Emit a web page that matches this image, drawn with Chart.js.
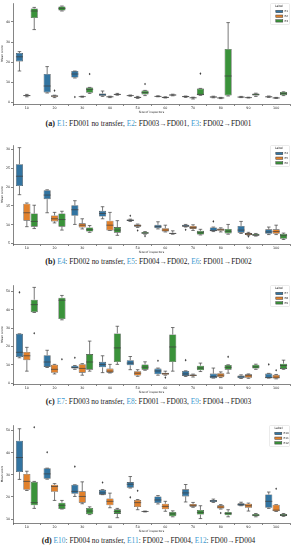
<!DOCTYPE html>
<html>
<head>
<meta charset="utf-8">
<script src="https://cdn.jsdelivr.net/npm/chart.js@4.4.0/dist/chart.umd.min.js"></script>
<style>
body { margin: 0; background: #fff; width: 297px; height: 550px; position: relative; overflow: hidden; }
.panel { position: absolute; left: 0; width: 297px; }
.cap { position: absolute; left: 0; width: 297px; text-align: center; font: 7.4px "Liberation Serif", serif; color: #1a1a1a; white-space: nowrap; line-height: 1; }
.cap b { font-size: 8.2px; }
.cap span { color: #3d9ad1; }
</style>
</head>
<body>
<div class="panel" style="top:0;height:114px"><canvas id="ca"></canvas></div>
<div class="cap" style="top:119.5px"><b>(a)</b> <span>E1</span>: FD001 no transfer, <span>E2</span>: FD003→FD001, <span>E3</span>: FD002→FD001</div>
<div class="panel" style="top:142px;height:112px"><canvas id="cb"></canvas></div>
<div class="cap" style="top:258px"><b>(b)</b> <span>E4</span>: FD002 no transfer, <span>E5</span>: FD004→FD002, <span>E6</span>: FD001→FD002</div>
<div class="panel" style="top:282px;height:112px"><canvas id="cc"></canvas></div>
<div class="cap" style="top:397.5px"><b>(c)</b> <span>E7</span>: FD003 no transfer, <span>E8</span>: FD001→FD003, <span>E9</span>: FD004→FD003</div>
<div class="panel" style="top:422px;height:111px"><canvas id="cd"></canvas></div>
<div class="cap" style="top:537px"><b>(d)</b> <span>E10</span>: FD004 no transfer, <span>E11</span>: FD002→FD004, <span>E12</span>: FD00→FD004</div>
<script>
// x categories
var sizes = ['10', '20', '30', '40', '50', '60', '70', '80', '90', '100'];

// each row: [min, q1, median, q3, max] per size; outliers as [size index, value]
var e1 = [[15.5, 20.3, 22.6, 24.5, 25.2], [4.5, 4.8, 8, 14, 17.7], [12, 12.2, 14, 15.5, 15.5], [2.8, 3.1, 3.6, 4.3, 5.5], [2.9, 3.0, 3.2, 3.3, 3.5],
    [2.6, 2.7, 2.8, 3.0, 3.1], [2.3, 2.5, 2.7, 2.9, 3.0], [2.1, 2.3, 2.5, 2.7, 2.9], [2.2, 2.3, 2.5, 2.6, 2.8], [2.3, 2.4, 2.6, 2.8, 3.0]];
var e1Out = [[2, 2.5]];
var e2 = [[2.6, 3.0, 3.2, 3.4, 3.8], [2.2, 2.6, 3.0, 3.3, 3.4], [2.4, 2.6, 2.7, 2.8, 2.9], [2.2, 2.4, 2.6, 2.8, 2.9], [1.8, 2.1, 2.3, 2.5, 2.8],
    [2.0, 2.1, 2.3, 2.5, 2.6], [1.5, 2.0, 2.1, 2.2, 2.4], [1.7, 1.9, 2.0, 2.2, 2.3], [2.0, 2.1, 2.2, 2.3, 2.4], [1.8, 1.9, 2.0, 2.2, 2.3]];
var e2Out = [[1, 5.7]];
var e3 = [[36.2, 42, 45.5, 46.8, 47.3], [45.5, 45.7, 46.8, 47.8, 48], [4.3, 4.6, 6.3, 7.2, 7.3], [3.4, 3.6, 3.8, 4.0, 4.3], [3.2, 3.8, 4.7, 5.7, 5.8],
    [3.1, 3.3, 3.5, 3.7, 3.9], [3.3, 3.4, 3.8, 6.7, 6.8], [3.0, 3.3, 13, 26.5, 39.7], [2.8, 3.2, 3.7, 4.2, 4.4], [3.2, 3.4, 4.2, 5.0, 5.1]];
var e3Out = [[2, 14], [4, 9], [6, 14.2]];

var e4 = [[18, 20.3, 22.9, 26.1, 30.5], [13.2, 16.8, 17.9, 19.2, 19.3], [10.1, 12.4, 14, 15.2, 16.4], [11.6, 12.2, 13, 13.7, 14.8], [10.9, 11.0, 11.2, 11.4, 11.5],
    [8.9, 9.1, 9.5, 10, 10.8], [9.4, 9.5, 9.7, 10, 10.1], [8.2, 8.3, 8.5, 9.3, 9.4], [7.7, 7.9, 8.6, 9.7, 10.9], [7.4, 7.6, 8.1, 8.8, 9.4]];
var e4Out = [[4, 12.4], [6, 8.7], [7, 10.9]];
var e5 = [[9.5, 11.1, 13.2, 15.6, 15.8], [10.5, 10.9, 11.6, 12.5, 13.3], [8.9, 9.3, 9.9, 10.4, 11.6], [8.5, 8.5, 9.9, 11.1, 13.3], [9.3, 9.5, 9.8, 10.1, 10.2],
    [8.1, 8.2, 8.6, 9.1, 9.9], [8.5, 8.9, 9.3, 9.7, 10], [8.1, 8.4, 8.7, 9.0, 9.2], [7.2, 7.3, 7.6, 7.8, 8.0], [7.4, 7.6, 8.2, 8.8, 9.9]];
var e5Out = [[4, 8.5], [8, 6.9]];
var e6 = [[9.0, 9.5, 10.9, 13, 15.2], [8.6, 9.5, 11.4, 13, 13.6], [8.0, 8.2, 8.7, 9.3, 9.8], [7.2, 7.9, 8.6, 9.4, 11.1], [7.5, 7.6, 7.8, 8.1, 8.2],
    [7.5, 7.6, 7.7, 7.9, 8.4], [7.3, 7.4, 7.9, 8.4, 8.8], [7.5, 7.7, 8.3, 8.9, 10.1], [7.0, 7.1, 7.3, 7.6, 7.7], [6.1, 6.3, 7.1, 7.6, 7.8]];
var e6Out = [[4, 7.0]];

var e7 = [[13.8, 14.2, 16.8, 26.9, 26.9], [8.5, 8.8, 11.5, 15.2, 17.9], [7.5, 7.9, 8.5, 9.5, 9.6], [5.7, 8.6, 10.1, 11.6, 14.9], [7.3, 9.7, 10.9, 12.5, 14.5],
    [4.3, 4.8, 6.6, 7.9, 8.2], [3.6, 3.9, 5, 6.6, 6.7], [2.7, 2.7, 3.5, 5.2, 8.2], [2.5, 2.7, 3.4, 4.1, 4.5], [2.7, 2.7, 3, 5.2, 5.3]];
var e7Out = [[0, 49.5], [2, 13.8], [5, 12.2], [6, 12.5], [9, 10.2]];
var e8 = [[6.5, 12.5, 14.9, 17, 19.5], [5, 5.6, 7.5, 10, 10.2], [4.3, 5.7, 8, 10.3, 10.6], [5.5, 5.7, 6.5, 7.9, 10.2], [3.7, 4.1, 5.4, 6.5, 7.3],
    [4.3, 4.5, 5.2, 5.7, 6.5], [3.3, 3.8, 4.2, 4.7, 4.9], [3.0, 3.2, 4.3, 5.4, 6.1], [2.6, 2.9, 4.0, 4.8, 5.0], [2.3, 2.5, 3.2, 4.5, 4.7]];
var e8Out = [[5, 3.0], [9, 7.0]];
var e9 = [[38.5, 38.7, 42.8, 45.5, 52.2], [34.5, 34.9, 45.2, 46.6, 47.8], [6.5, 7.3, 11.5, 15.8, 22.9], [10.2, 11.5, 19.2, 27.1, 31], [7, 7.3, 8.7, 10.2, 11.6],
    [6.5, 11.5, 19.7, 26.5, 30.3], [6.3, 7, 8.2, 9.5, 10.9], [5.4, 7.3, 8.6, 9.9, 10], [7.5, 7.9, 8.8, 10, 10.3], [7.5, 7.7, 9.6, 10.6, 12.5]];
var e9Out = [[0, 27.2], [1, 13], [7, 14.3]];

var e10 = [[27.9, 31.2, 37.8, 45.4, 50.8], [28, 28.2, 30.4, 33, 33], [20.2, 21.4, 22.5, 25.5, 25.5], [21, 21, 21.8, 23.2, 23.3], [24, 24.1, 25.7, 26.7, 29.2],
    [16.8, 17.2, 18.6, 20.2, 20.6], [17.7, 20.2, 21.8, 23.4, 25.6], [17.5, 17.7, 18.2, 18.6, 19], [16, 16, 16.5, 17.1, 17.6], [14.8, 15.1, 18, 21.1, 22.2]];
var e10Out = [[1, 40.2], [2, 33.7], [3, 26.5], [4, 19.8]];
var e11 = [[22.9, 23.2, 27, 30.4, 31.6], [18.4, 22.3, 24.7, 25.5, 26], [16.9, 17.4, 20.2, 22.5, 26.8], [15.1, 16.2, 18, 19.3, 21.7], [14.2, 15.4, 17.4, 18.6, 18.8],
    [13.5, 14.4, 15.7, 16.9, 18], [15.3, 15.6, 16.2, 16.8, 17.5], [14.5, 14.7, 15.4, 16.2, 16.5], [13.6, 15.1, 16, 16.9, 17.2], [13.4, 13.5, 14, 16.5, 16.5]];
var e11Out = [[4, 22.8], [7, 12.7], [9, 23.7]];
var e12 = [[14.8, 16.2, 17.4, 26.8, 27], [14.5, 14.5, 16.2, 17.4, 18.4], [12, 12.1, 13.6, 15, 15.5], [10.6, 12.3, 13.4, 14.4, 14.8], [13.2, 13.3, 13.4, 13.5, 13.6],
    [11, 11.2, 12.3, 13.2, 13.7], [10.2, 12, 13, 14.1, 16], [11, 11.7, 12.5, 13.2, 14.2], [11, 11.2, 11.7, 12.3, 12.5], [11.2, 11.4, 11.8, 12.3, 12.5]];
var e12Out = [[0, 51.5]];

// y tick labels per panel
var ticksA = [0, 10, 20, 30, 40];
var ticksB = [5, 10, 15, 20, 25, 30];
var ticksC = [0, 10, 20, 30, 40, 50];
var ticksD = [10, 20, 30, 40, 50];

var colors = ['#3274a1', '#e1812c', '#3a923a'];
var gray = '#3f3f3f';
var axisGray = '#333';

var boxPlugin = {
    id: 'boxes',
    afterDatasetsDraw: function (chart) {
        var ctx = chart.ctx;
        var y = chart.scales.y;
        chart.data.datasets.forEach(function (ds, i) {
            var meta = chart.getDatasetMeta(i);
            ctx.save();
            ctx.strokeStyle = gray;
            ctx.lineWidth = 0.7;
            meta.data.forEach(function (bar, j) {
                var s = ds.stats[j];
                var x = bar.x, w = bar.width;
                var pMin = y.getPixelForValue(s[0]), pQ1 = y.getPixelForValue(s[1]);
                var pMed = y.getPixelForValue(s[2]), pQ3 = y.getPixelForValue(s[3]);
                var pMax = y.getPixelForValue(s[4]);
                ctx.beginPath();
                ctx.moveTo(x, pQ3); ctx.lineTo(x, pMax);
                ctx.moveTo(x, pQ1); ctx.lineTo(x, pMin);
                ctx.moveTo(x - w / 4, pMax); ctx.lineTo(x + w / 4, pMax);
                ctx.moveTo(x - w / 4, pMin); ctx.lineTo(x + w / 4, pMin);
                ctx.moveTo(x - w / 2, pMed); ctx.lineTo(x + w / 2, pMed);
                if (s[3] - s[1] < 0.01) {
                    ctx.moveTo(x - w / 2, pQ1); ctx.lineTo(x + w / 2, pQ1);
                }
                ctx.stroke();
            });
            ctx.fillStyle = gray;
            ds.outliers.forEach(function (o) {
                var bar = meta.data[o[0]];
                var py = y.getPixelForValue(o[1]);
                ctx.beginPath();
                ctx.moveTo(bar.x, py - 1.3);
                ctx.lineTo(bar.x + 0.9, py);
                ctx.lineTo(bar.x, py + 1.3);
                ctx.lineTo(bar.x - 0.9, py);
                ctx.closePath();
                ctx.fill();
            });
            ctx.restore();
        });
    }
};

var legendPlugin = {
    id: 'boxLegend',
    afterDraw: function (chart) {
        var ctx = chart.ctx;
        var a = chart.chartArea;
        var sets = chart.data.datasets;
        var bw = sets[0].label.length > 2 ? 20 : 19, bh = 21;
        var bx = a.right - bw - 0.5, by = a.top + 0.5;
        ctx.save();
        ctx.fillStyle = 'rgba(255,255,255,0.85)';
        ctx.strokeStyle = '#d6d6d6';
        ctx.lineWidth = 0.5;
        ctx.beginPath();
        ctx.roundRect(bx, by, bw, bh, 1);
        ctx.fill();
        ctx.stroke();
        ctx.fillStyle = '#222';
        ctx.font = '3px "DejaVu Sans"';
        ctx.textAlign = 'center';
        ctx.textBaseline = 'middle';
        ctx.fillText('Label', bx + bw / 2 - 1, by + 3);
        sets.forEach(function (ds, i) {
            var yy = by + 8 + i * 4.7;
            ctx.fillStyle = ds.backgroundColor;
            ctx.strokeStyle = gray;
            ctx.lineWidth = 0.5;
            ctx.fillRect(bx + 5.3, yy - 1.2, 7, 2.4);
            ctx.strokeRect(bx + 5.3, yy - 1.2, 7, 2.4);
            ctx.fillStyle = '#222';
            ctx.textAlign = 'left';
            ctx.font = '2.8px "DejaVu Sans"';
            ctx.fillText(ds.label, bx + 14, yy);
        });
        ctx.restore();
    }
};

function makePanel(id, names, stats, outs, yMin, yMax, yTicks) {
    var datasets = names.map(function (name, i) {
        return {
            label: name,
            data: stats[i].map(function (d) { return [d[1], d[3]]; }),
            stats: stats[i],
            outliers: outs[i],
            backgroundColor: colors[i],
            borderColor: gray,
            borderWidth: 0.6,
            borderSkipped: false,
            categoryPercentage: 0.8,
            barPercentage: 0.96
        };
    });
    var tickFont = { family: 'DejaVu Sans', size: 3.3 };
    var titleFont = { family: 'DejaVu Sans', size: 2.9 };
    var config = {
        type: 'bar',
        data: { labels: sizes, datasets: datasets },
        options: {
            responsive: true,
            maintainAspectRatio: false,
            animation: false,
            devicePixelRatio: 1,
            layout: { padding: { top: 3, right: 7, left: 0, bottom: 0 } },
            plugins: {
                legend: { display: false },
                tooltip: { enabled: false }
            },
            scales: {
                x: {
                    grid: { drawOnChartArea: false, tickLength: 2, color: axisGray, lineWidth: 0.6 },
                    border: { color: axisGray, width: 0.6 },
                    ticks: { font: tickFont, color: '#222', padding: 0.5, maxRotation: 0 },
                    title: { display: true, text: 'Size of inspectors', font: titleFont, color: '#222', padding: 0.5 },
                    afterFit: function (s) { s.height = 10; }
                },
                y: {
                    min: yMin,
                    max: yMax,
                    afterBuildTicks: function (s) { s.ticks = yTicks.map(function (v) { return { value: v }; }); },
                    grid: { drawOnChartArea: false, tickLength: 2, color: axisGray, lineWidth: 0.6 },
                    border: { color: axisGray, width: 0.6 },
                    ticks: { font: tickFont, color: '#222', padding: 0.8 },
                    title: { display: true, text: 'Mean score', font: titleFont, color: '#222', padding: 0.5 },
                    afterFit: function (s) { s.width = 13; }
                }
            }
        },
        plugins: [boxPlugin, legendPlugin]
    };
    var ctx = document.getElementById(id).getContext('2d');
    new Chart(ctx, config);
}

makePanel('ca', ['E1', 'E2', 'E3'], [e1, e2, e3], [e1Out, e2Out, e3Out], -1, 49.5, ticksA);
makePanel('cb', ['E4', 'E5', 'E6'], [e4, e5, e6], [e4Out, e5Out, e6Out], 4.9, 31.2, ticksB);
makePanel('cc', ['E7', 'E8', 'E9'], [e7, e8, e9], [e7Out, e8Out, e9Out], -0.5, 53.5, ticksC);
makePanel('cd', ['E10', 'E11', 'E12'], [e10, e11, e12], [e10Out, e11Out, e12Out], 8.2, 52.5, ticksD);
</script>
</body>
</html>
